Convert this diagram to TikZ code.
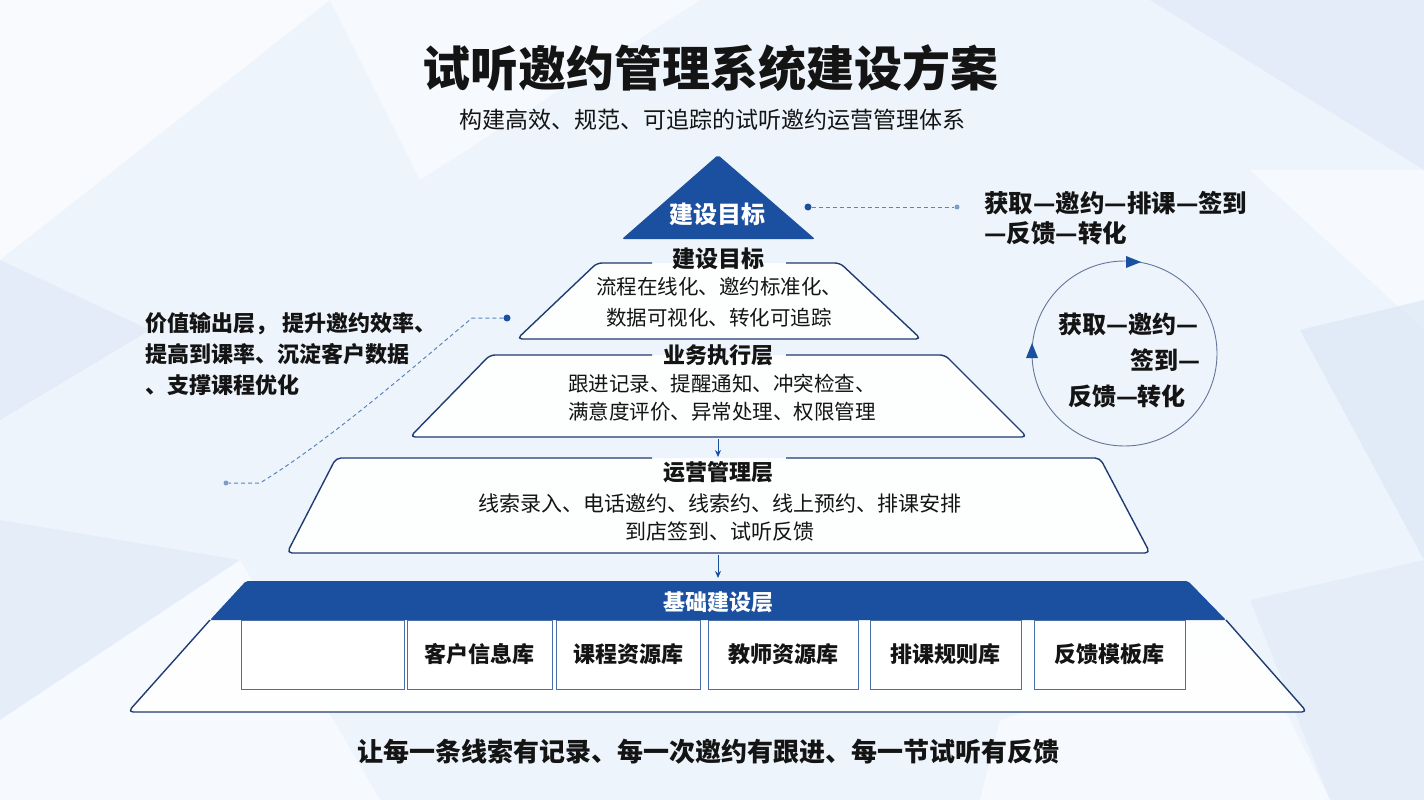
\documentclass[tikz,border=0pt]{standalone}
\usepackage{fontspec}
\setmainfont{Noto Sans CJK SC}
\usetikzlibrary{arrows.meta}
\definecolor{dblue}{HTML}{1B4FA0}
\definecolor{navy}{HTML}{1F3C72}
\definecolor{bgblue}{HTML}{EEF4FB}
\definecolor{facet}{HTML}{DCE8F6}
\definecolor{dashc}{HTML}{5B84BD}
\definecolor{txt}{HTML}{141414}
\definecolor{boxc}{HTML}{4A6FA8}
\begin{document}
\begin{tikzpicture}[x=1pt,y=-1pt,
  layer/.style={draw=navy, line width=1.4pt, rounded corners=5pt, line join=round},
  lfill/.style={fill=white, fill opacity=.92, rounded corners=5pt},
  lbl/.style={font=\bfseries\fontsize{22}{26}\selectfont, text=txt, inner sep=2pt},
  body/.style={font=\fontsize{20.5}{28}\selectfont, text=txt, align=center, inner sep=0pt},
  libbox/.style={draw=boxc, fill=white, line width=0.8pt, minimum height=69pt, inner sep=0pt, font=\bfseries\fontsize{22}{26}\selectfont, text=txt},
  dashln/.style={dashc, line width=1pt, dash pattern=on 4pt off 3pt},
  bigdot/.style={circle, fill=dblue, minimum size=7pt, inner sep=0pt},
  smalldot/.style={circle, fill=dashc!80, minimum size=5pt, inner sep=0pt},
  flowarrow/.style={dblue, line width=1pt, -{Stealth[length=7pt,width=6pt]}},
  side/.style={font=\bfseries\fontsize{22}{31}\selectfont, text=txt, align=left, inner sep=0pt},
  cyc/.style={font=\bfseries\fontsize{24}{30}\selectfont, text=txt, inner sep=0pt}
]
% background
\useasboundingbox (0,0) rectangle (1424,800);
\fill[bgblue] (0,0) rectangle (1424,800);
\fill[white, opacity=.6] (0,0) -- (330,0) -- (0,260) -- cycle;
\fill[white, opacity=.5] (330,0) -- (700,0) -- (420,180) -- cycle;
\fill[facet, opacity=.6] (0,260) -- (150,330) -- (0,420) -- cycle;
\fill[facet, opacity=.5] (0,520) -- (240,560) -- (0,720) -- cycle;
\fill[white, opacity=.5] (0,720) -- (240,560) -- (380,800) -- (0,800) -- cycle;
\fill[facet, opacity=.6] (1150,0) -- (1424,0) -- (1424,170) -- cycle;
\fill[white, opacity=.5] (1250,170) -- (1424,170) -- (1424,330) -- cycle;
\fill[facet, opacity=.7] (1300,330) -- (1424,300) -- (1424,560) -- cycle;
\fill[facet, opacity=.5] (1250,600) -- (1424,560) -- (1424,800) -- (1330,800) -- cycle;
\fill[white, opacity=.5] (1000,720) -- (1250,640) -- (1330,800) -- (980,800) -- cycle;

% title
\node[font=\bfseries\fontsize{48}{52}\selectfont, text=txt] (title) at (710,68) {试听邀约管理系统建设方案};
\node[font=\fontsize{23}{26}\selectfont, text=txt] (subtitle) at (712,120) {构建高效、规范、可追踪的试听邀约运营管理体系};

% apex triangle
\fill[dblue, rounded corners=2pt] (718,155) -- (815,239) -- (622,239) -- cycle;
\node[font=\bfseries\fontsize{24}{28}\selectfont, text=white] (apex) at (717,214) {建设目标};

% layer 1
\fill[lfill] (597,263) -- (840,263) -- (921,339) -- (517,339) -- cycle;
\draw[layer] (652,263) -- (597,263) -- (517,339) -- (921,339) -- (840,263) -- (786,263);
\node[lbl, font=\bfseries\fontsize{23}{26}\selectfont] (l1) at (718,259) {建设目标};
\node[body, font=\fontsize{20.5}{31}\selectfont] (l1b) at (719,302) {流程在线化、邀约标准化、\\数据可视化、转化可追踪};

% layer 2
\fill[lfill] (490,355) -- (945,355) -- (1027,437) -- (410,437) -- cycle;
\draw[layer] (652,355) -- (490,355) -- (410,437) -- (1027,437) -- (945,355) -- (786,355);
\node[lbl] (l2) at (718,355) {业务执行层};
\node[body] (l2b) at (722,398) {跟进记录、提醒通知、冲突检查、\\满意度评价、异常处理、权限管理};

% layer 3
\fill[lfill] (336,458) -- (1100,458) -- (1150,553) -- (287,553) -- cycle;
\draw[layer] (652,458) -- (336,458) -- (287,553) -- (1150,553) -- (1100,458) -- (786,458);
\node[lbl] (l3) at (718,472) {运营管理层};
\node[body, font=\fontsize{21}{28}\selectfont] (l3b) at (720,518) {线索录入、电话邀约、线索约、线上预约、排课安排\\到店签到、试听反馈};

% arrows between layers
\coordinate (l2bot) at (718,439);
\coordinate (l3top) at (718,457);
\coordinate (l3bot) at (718,555);
\coordinate (l4top) at (718,578);
\draw[flowarrow] (l2bot) -- (l3top);
\draw[flowarrow] (l3bot) -- (l4top);

% base layer
\fill[lfill] (210,620) -- (128,712) -- (1307,712) -- (1226,620) -- cycle;
\fill[dblue, rounded corners=2pt] (246,581) -- (1188,581) -- (1226,620) -- (210,620) -- cycle;
\draw[layer] (210,620) -- (128,712) -- (1307,712) -- (1226,620);
\node[font=\bfseries\fontsize{22}{26}\selectfont, text=white] (l4) at (718,602) {基础建设层};
\node[libbox, minimum width=163pt] (b1) at (323,654.5) {};
\node[libbox, minimum width=145pt] (b2) at (479.5,654.5) {客户信息库};
\node[libbox, minimum width=144pt] (b3) at (628,654.5) {课程资源库};
\node[libbox, minimum width=150pt] (b4) at (783,654.5) {教师资源库};
\node[libbox, minimum width=151pt] (b5) at (945.5,654.5) {排课规则库};
\node[libbox, minimum width=151pt] (b6) at (1109.5,654.5) {反馈模板库};

% bottom slogan
\node[font=\bfseries\fontsize{26}{30}\selectfont, text=txt] (slogan) at (708,752) {让每一条线索有记录、每一次邀约有跟进、每一节试听有反馈};

% right top connector and text
\node[bigdot] (d1) at (808,207) {};
\node[smalldot] (d2) at (957,207) {};
\draw[dashln] (d1) -- (d2);
\node[side, font=\bfseries\fontsize{24.5}{30}\selectfont, anchor=west] (rt) at (984,218) {获取—邀约—排课—签到\\—反馈—转化};

% cycle circle
\draw[navy!70, line width=0.9pt] (1124.5,353.5) circle[radius=92.5pt];
\fill[dblue] (1126,256) -- (1141,262) -- (1126,268) -- cycle;
\fill[dblue] (1026,358) -- (1032,343) -- (1038,358) -- cycle;
\node[cyc] (c1) at (1128,324) {获取—邀约—};
\node[cyc, anchor=east] (c2) at (1201,360) {签到—};
\node[cyc] (c3) at (1127,396) {反馈—转化};

% left text and connector
\node[side, anchor=west] (lt) at (145,354) {价值输出层， 提升邀约效率、\\提高到课率、沉淀客户数据\\、支撑课程优化};
\node[bigdot] (d3) at (507,318) {};
\node[smalldot] (d4) at (226,483) {};
\draw[dashln] (d3) -- (472,318) .. controls (410,370) and (330,440) .. (260,483) -- (d4);
\end{tikzpicture}
\end{document}
